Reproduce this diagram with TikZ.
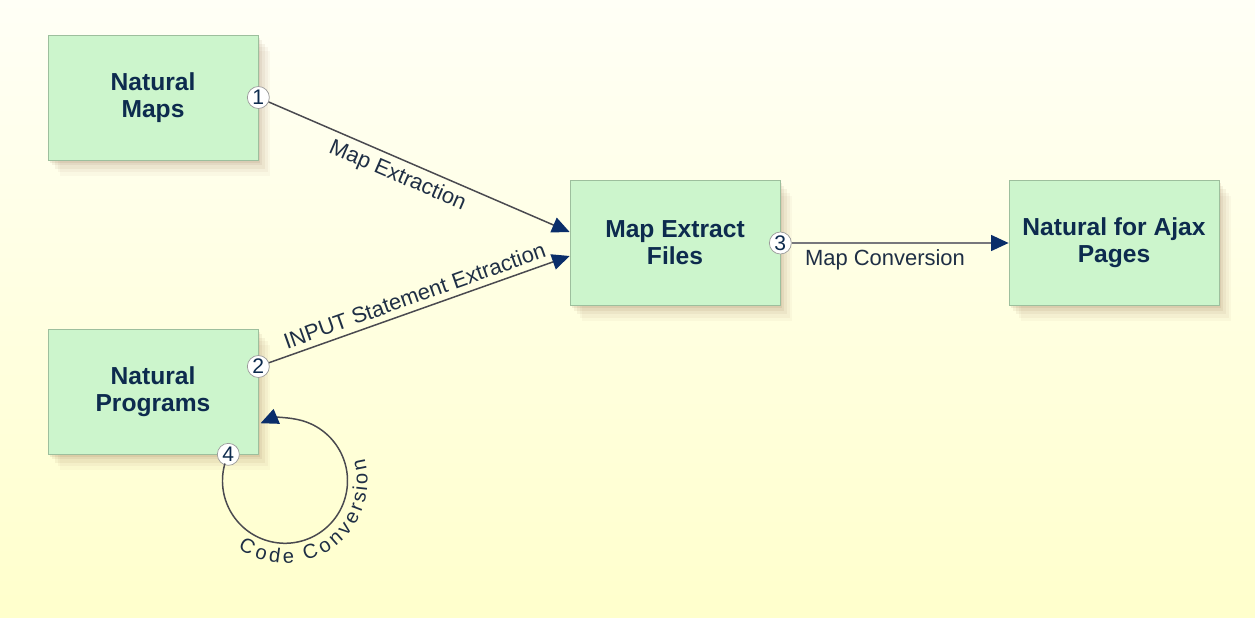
\documentclass[tikz,border=0pt]{standalone}
\usepackage{fontspec}
\setmainfont{Liberation Sans}
\usetikzlibrary{arrows.meta,positioning,shadows,decorations.text}
\definecolor{bgtop}{HTML}{FFFFF6}
\definecolor{bgbot}{HTML}{FFFFCC}
\definecolor{boxfill}{HTML}{CCF5CC}
\definecolor{boxline}{HTML}{9DBF9D}
\definecolor{shadowc}{HTML}{8A5A3A}
\definecolor{navy}{HTML}{0D2B4E}
\definecolor{arrowc}{HTML}{0A2E6A}
\definecolor{linec}{HTML}{4A4A50}
\definecolor{labelc}{HTML}{1F2F45}
\definecolor{numline}{HTML}{9A9A9A}

\begin{document}
\begin{tikzpicture}[
    box/.style={draw=boxline, fill=boxfill, minimum width=4.2cm, minimum height=2.5cm,
        align=center, text=navy, font=\fontsize{14}{15.5}\selectfont\bfseries,
        drop shadow={shadow xshift=1pt, shadow yshift=-1.5pt, opacity=.10, fill=shadowc},
        drop shadow={shadow xshift=2.5pt, shadow yshift=-3pt, opacity=.08, fill=shadowc},
        drop shadow={shadow xshift=4pt, shadow yshift=-5pt, opacity=.07, fill=shadowc},
        drop shadow={shadow xshift=5.5pt, shadow yshift=-7pt, opacity=.05, fill=shadowc},
        drop shadow={shadow xshift=7pt, shadow yshift=-9pt, opacity=.04, fill=shadowc}},
    num/.style={circle, draw=numline, fill=white, inner sep=0pt, minimum size=0.44cm,
        font=\fontsize{12}{12}\selectfont, text=navy},
    flow/.style={draw=linec, line width=0.85pt, -{Triangle[length=10pt,width=9pt,color=arrowc]}},
    lbl/.style={font=\fontsize{12.5}{13}\selectfont, text=labelc}
]
    % Background
    \shade[top color=bgtop, bottom color=bgbot] (0,0) rectangle (25.1,12.34);

    % Boxes
    \node[box] (maps) at (3.06,10.39) {Natural\\Maps};
    \node[box] (progs) at (3.06,4.51) {Natural\\Programs};
    \node[box] (extract) at (13.5,7.48) {Map Extract\\Files};
    \node[box] (ajax) at (22.28,7.48) {Natural for Ajax\\Pages};

    % Step numbers
    \node[num] (n1) at (maps.east) {1};
    \node[num] (n2) at ([yshift=0.5cm]progs.east) {2};
    \node[num] (n3) at (extract.east) {3};
    \node[num] (n4) at ([xshift=-0.6cm]progs.south east) {4};
    \coordinate (loopc) at ([shift={(-25:1.25)}]n4.center);

    % Connectors
    \draw[flow] (n1) -- ([yshift=0.22cm]extract.west)
        node[lbl, pos=0.45, sloped, below] {Map Extraction};
    \draw[flow] (n2) -- ([yshift=-0.26cm]extract.west)
        node[lbl, pos=0.5, sloped, above] {INPUT Statement Extraction};
    \draw[flow, draw=linec!75, line width=1.1pt] (n3) -- (ajax.west)
        node[lbl, pos=0.43, below] {Map Conversion};
    \draw[flow] ([shift={(164:1.25)}]loopc) arc[start angle=164, end angle=473, radius=1.25];
    \path[decorate, decoration={text along path, text align=center, raise=-0.4cm,
        text color=labelc, text={|\fontsize{11.5}{12}\selectfont|Code Conversion}}]
        ([shift={(200:1.25)}]loopc) arc[start angle=200, end angle=410, radius=1.25];
\end{tikzpicture}
\end{document}
